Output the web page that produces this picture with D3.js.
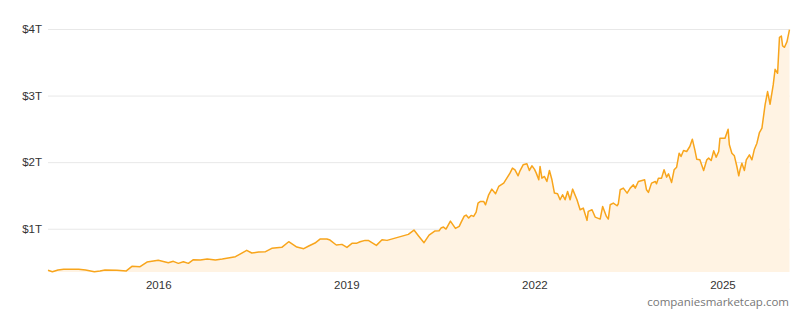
<!DOCTYPE html>
<html>
<head>
<meta charset="utf-8">
<script src="https://cdn.jsdelivr.net/npm/d3@7"></script>
<style>
  html, body { margin: 0; padding: 0; background: #fff; }
  svg { display: block; font-family: "Segoe UI", "Open Sans", sans-serif; }
</style>
</head>
<body>
<div id="chart"></div>
<script>
// Market cap, trillions USD, by decimal year
const years = [
  2014.24, 2014.31, 2014.40, 2014.49, 2014.73, 2014.84, 2014.98, 2015.07, 2015.15, 2015.34,
  2015.49, 2015.58, 2015.71, 2015.82, 2016.00, 2016.16, 2016.24, 2016.32, 2016.40, 2016.48,
  2016.56, 2016.67, 2016.78, 2016.91, 2017.02, 2017.23, 2017.41, 2017.49, 2017.60, 2017.71,
  2017.81, 2017.97, 2018.08, 2018.21, 2018.32, 2018.40, 2018.50, 2018.58, 2018.69, 2018.74,
  2018.84, 2018.93, 2019.01, 2019.09, 2019.16, 2019.22, 2019.30, 2019.35, 2019.48, 2019.57,
  2019.65, 2019.99, 2020.08, 2020.15, 2020.24, 2020.32, 2020.41, 2020.48, 2020.51, 2020.55,
  2020.59, 2020.66, 2020.74, 2020.80, 2020.83, 2020.88, 2020.91, 2020.95, 2020.99, 2021.03,
  2021.07, 2021.10, 2021.14, 2021.19, 2021.22, 2021.27, 2021.32, 2021.38, 2021.43, 2021.51,
  2021.56, 2021.61, 2021.65, 2021.69, 2021.74, 2021.77, 2021.82, 2021.88, 2021.92, 2021.96,
  2022.00, 2022.03, 2022.07, 2022.09, 2022.12, 2022.16, 2022.20, 2022.24, 2022.28, 2022.32,
  2022.37, 2022.41, 2022.45, 2022.49, 2022.53, 2022.57, 2022.61, 2022.68, 2022.73, 2022.78,
  2022.84, 2022.86, 2022.92, 2022.97, 2023.05, 2023.09, 2023.15, 2023.18, 2023.21, 2023.26,
  2023.32, 2023.34, 2023.37, 2023.42, 2023.48, 2023.53, 2023.58, 2023.61, 2023.66, 2023.72,
  2023.76, 2023.79, 2023.82, 2023.87, 2023.93, 2023.95, 2023.98, 2024.03, 2024.07, 2024.11,
  2024.14, 2024.19, 2024.23, 2024.27, 2024.31, 2024.34, 2024.38, 2024.43, 2024.48, 2024.52,
  2024.56, 2024.59, 2024.64, 2024.70, 2024.75, 2024.78, 2024.82, 2024.86, 2024.90, 2024.94,
  2024.96, 2025.04, 2025.09, 2025.11, 2025.15, 2025.19, 2025.23, 2025.26, 2025.28, 2025.31,
  2025.35, 2025.38, 2025.43, 2025.47, 2025.51, 2025.55, 2025.59, 2025.63, 2025.68, 2025.72,
  2025.76, 2025.81, 2025.84, 2025.88, 2025.91, 2025.94, 2025.96, 2025.99, 2026.03, 2026.07
];
const marketCap = [
  0.375, 0.355, 0.381, 0.390, 0.390, 0.381, 0.355, 0.366, 0.381, 0.375,
  0.366, 0.435, 0.430, 0.500, 0.525, 0.490, 0.510, 0.480, 0.505, 0.480,
  0.535, 0.530, 0.545, 0.530, 0.545, 0.580, 0.675, 0.635, 0.650, 0.655,
  0.705, 0.720, 0.805, 0.725, 0.700, 0.740, 0.785, 0.845, 0.845, 0.830,
  0.755, 0.765, 0.720, 0.780, 0.780, 0.805, 0.825, 0.825, 0.750, 0.835,
  0.825, 0.915, 0.980, 0.895, 0.790, 0.905, 0.965, 0.970, 1.010, 1.025,
  0.995, 1.115, 1.005, 1.035, 1.095, 1.190, 1.205, 1.160, 1.200, 1.185,
  1.250, 1.385, 1.410, 1.410, 1.360, 1.510, 1.595, 1.525, 1.635, 1.685,
  1.760, 1.835, 1.910, 1.885, 1.795, 1.870, 1.960, 1.975, 1.875, 1.945,
  1.895, 1.835, 1.735, 1.935, 1.760, 1.785, 1.710, 1.875, 1.735, 1.535,
  1.525, 1.435, 1.510, 1.435, 1.560, 1.435, 1.595, 1.435, 1.285, 1.310,
  1.125, 1.260, 1.285, 1.175, 1.145, 1.335, 1.185, 1.145, 1.360, 1.385,
  1.345, 1.375, 1.585, 1.610, 1.535, 1.610, 1.660, 1.610, 1.710, 1.725,
  1.735, 1.585, 1.545, 1.685, 1.710, 1.675, 1.760, 1.760, 1.885, 1.775,
  1.825, 1.695, 1.885, 1.925, 2.135, 2.085, 2.175, 2.160, 2.235, 2.345,
  2.185, 2.045, 2.035, 1.875, 2.035, 2.060, 2.025, 2.170, 2.075, 2.160,
  2.360, 2.360, 2.495, 2.260, 2.135, 2.095, 1.935, 1.795, 1.885, 1.985,
  1.875, 2.035, 2.110, 2.035, 2.195, 2.285, 2.445, 2.510, 2.860, 3.060,
  2.870, 3.160, 3.395, 3.335, 3.875, 3.895, 3.745, 3.725, 3.810, 3.990
];
const yTicks = [1, 2, 3, 4];
const xTickYears = [2016, 2019, 2022, 2025];
const domainStart = 2014.24, domainEnd = 2026.07, yMin = 0.35;

function toDate(y) {
  const yr = Math.floor(y);
  const start = new Date(yr, 0, 1), end = new Date(yr + 1, 0, 1);
  return new Date(+start + (y - yr) * (end - start));
}

const data = years.map((y, i) => ({ date: toDate(y), value: marketCap[i] }));

const W = 800, H = 311;
const margin = { top: 29, right: 10.5, bottom: 39, left: 48 };

const svg = d3.select("#chart").append("svg")
  .attr("width", W)
  .attr("height", H);

const x = d3.scaleTime()
  .domain([toDate(domainStart), toDate(domainEnd)])
  .range([margin.left, W - margin.right]);

const y = d3.scaleLinear()
  .domain([yMin, 4])
  .range([H - margin.bottom, margin.top]);

// gridlines + y labels
svg.append("g")
  .attr("transform", `translate(${margin.left},0)`)
  .call(d3.axisLeft(y).tickValues(yTicks).tickFormat(d => `$${d}T`).tickSize(-(W - margin.left - margin.right)).tickPadding(6))
  .call(ax => ax.select(".domain").remove())
  .call(ax => ax.selectAll(".tick line").attr("stroke", "#e8e8e8").attr("stroke-width", 1))
  .call(ax => ax.selectAll("text")
    .attr("font-size", 11.5)
    .attr("fill", "#333"));

// area
const area = d3.area()
  .x(d => x(d.date))
  .y0(H - margin.bottom)
  .y1(d => y(d.value));

svg.append("path")
  .datum(data)
  .attr("fill", "#fff3e3")
  .attr("d", area);

const line = d3.line()
  .x(d => x(d.date))
  .y(d => y(d.value));

svg.append("path")
  .datum(data)
  .attr("fill", "none")
  .attr("stroke", "#f8a51c")
  .attr("stroke-width", 1.5)
  .attr("stroke-linejoin", "round")
  .attr("d", line);

// x axis labels
svg.append("g")
  .attr("transform", `translate(0,${H - margin.bottom})`)
  .call(d3.axisBottom(x).tickValues(xTickYears.map(yr => new Date(yr, 0, 1))).tickFormat(d3.timeFormat("%Y")).tickSize(0).tickPadding(9))
  .call(ax => ax.select(".domain").remove())
  .call(ax => ax.selectAll("text")
    .attr("font-size", 11.5)
    .attr("fill", "#333"));

// watermark
svg.append("text")
  .attr("x", 789)
  .attr("y", 306)
  .attr("text-anchor", "end")
  .attr("font-size", 11.5)
  .attr("fill", "#777")
  .text("companiesmarketcap.com");
</script>
</body>
</html>
